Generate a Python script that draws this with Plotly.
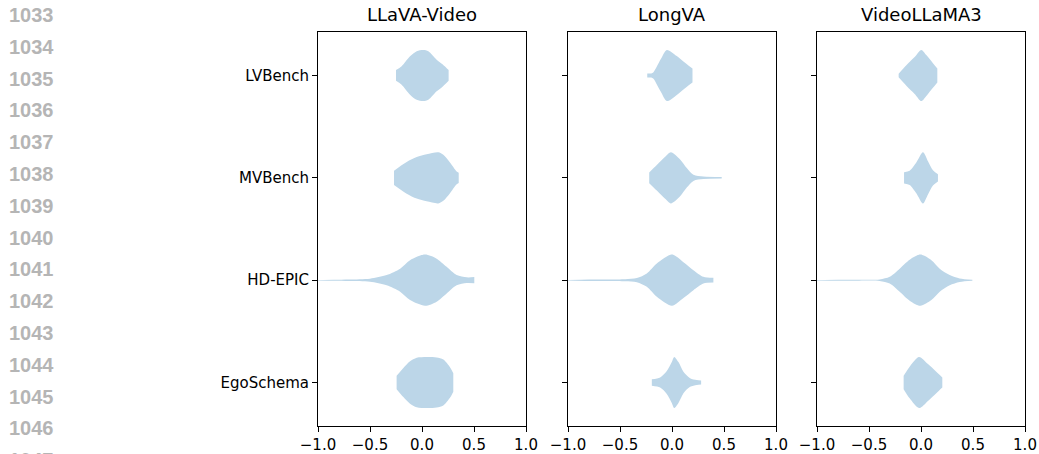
import plotly.graph_objects as go

# ---- data -------------------------------------------------------------
benchmarks = ["LVBench", "MVBench", "HD-EPIC", "EgoSchema"]
models = ["LLaVA-Video", "LongVA", "VideoLLaMA3"]
x_ticks = [-1.0, -0.5, 0.0, 0.5, 1.0]
x_tick_labels = ["\u22121.0", "\u22120.5", "0.0", "0.5", "1.0"]
line_numbers = list(range(1033, 1048))

# violin outlines: value along x and relative half-width (1 = widest)
llava_lvbench_x = [-0.25, -0.196, -0.115, -0.051, 0.013, 0.061, 0.141, 0.20, 0.256]
llava_lvbench_w = [0.21, 0.36, 0.75, 0.95, 1.0, 0.95, 0.62, 0.43, 0.21]
llava_mvbench_x = [-0.269, -0.147, -0.051, 0.045, 0.157, 0.205, 0.269, 0.333, 0.353]
llava_mvbench_w = [0.28, 0.62, 0.81, 0.92, 1.0, 0.9, 0.6, 0.25, 0.2]
llava_hdepic_x = [-1.0, -0.85, -0.7, -0.5, -0.34, -0.21, -0.115, 0.029, 0.141, 0.237, 0.333, 0.43, 0.503]
llava_hdepic_w = [0.01, 0.02, 0.03, 0.06, 0.2, 0.45, 0.78, 1.0, 0.84, 0.52, 0.2, 0.11, 0.12]
llava_ego_x = [-0.244, -0.179, -0.115, -0.051, 0.045, 0.141, 0.205, 0.269, 0.301]
llava_ego_w = [0.26, 0.57, 0.83, 0.97, 1.0, 0.98, 0.9, 0.6, 0.36]

longva_lvbench_x = [-0.238, -0.2, -0.178, -0.146, -0.106, -0.05, 0.046, 0.110, 0.174, 0.197]
longva_lvbench_w = [0.08, 0.08, 0.13, 0.35, 0.65, 1.0, 0.76, 0.55, 0.34, 0.27]
longva_mvbench_x = [-0.219, -0.146, -0.066, -0.011, 0.078, 0.142, 0.206, 0.302, 0.478]
longva_mvbench_w = [0.21, 0.5, 0.82, 1.0, 0.72, 0.38, 0.12, 0.05, 0.03]
longva_hdepic_x = [-1.0, -0.8, -0.6, -0.45, -0.338, -0.242, -0.146, 0.0, 0.11, 0.206, 0.302, 0.398]
longva_hdepic_w = [0.01, 0.03, 0.03, 0.04, 0.08, 0.26, 0.65, 1.0, 0.7, 0.39, 0.13, 0.09]
longva_ego_x = [-0.194, -0.114, -0.05, -0.002, 0.021, 0.062, 0.11, 0.174, 0.238, 0.28]
longva_ego_w = [0.13, 0.2, 0.45, 0.8, 1.0, 0.8, 0.42, 0.17, 0.1, 0.08]

vl3_lvbench_x = [-0.215, -0.141, -0.061, 0.003, 0.051, 0.115, 0.157]
vl3_lvbench_w = [0.07, 0.4, 0.72, 1.0, 0.8, 0.48, 0.27]
vl3_mvbench_x = [-0.163, -0.109, -0.045, 0.019, 0.067, 0.115, 0.163]
vl3_mvbench_w = [0.22, 0.28, 0.6, 1.0, 0.65, 0.3, 0.14]
vl3_hdepic_x = [-1.0, -0.8, -0.6, -0.397, -0.301, -0.205, -0.109, -0.006, 0.1, 0.18, 0.276, 0.372, 0.494]
vl3_hdepic_w = [0.01, 0.02, 0.02, 0.03, 0.13, 0.45, 0.8, 1.0, 0.78, 0.45, 0.2, 0.07, 0.02]
vl3_ego_x = [-0.167, -0.109, -0.019, 0.067, 0.147, 0.205]
vl3_ego_w = [0.26, 0.62, 1.0, 0.72, 0.42, 0.2]

profiles = {
    "LLaVA-Video": [(llava_lvbench_x, llava_lvbench_w), (llava_mvbench_x, llava_mvbench_w),
                    (llava_hdepic_x, llava_hdepic_w), (llava_ego_x, llava_ego_w)],
    "LongVA": [(longva_lvbench_x, longva_lvbench_w), (longva_mvbench_x, longva_mvbench_w),
               (longva_hdepic_x, longva_hdepic_w), (longva_ego_x, longva_ego_w)],
    "VideoLLaMA3": [(vl3_lvbench_x, vl3_lvbench_w), (vl3_mvbench_x, vl3_mvbench_w),
                    (vl3_hdepic_x, vl3_hdepic_w), (vl3_ego_x, vl3_ego_w)],
}

# ---- styling ----------------------------------------------------------
W, H = 1039, 454
HALF = 0.25                      # half of the violin width in y units
FILL = "rgb(188,214,232)"
FONT = "DejaVu Sans"
x_domains = [(318, 526), (568, 776), (817, 1025)]
y_top_px, y_bot_px = 32, 426
y_domain = [1 - y_bot_px / H, 1 - y_top_px / H]

fig = go.Figure()

for i, model in enumerate(models):
    xa = "x" if i == 0 else f"x{i + 1}"
    ya = "y" if i == 0 else f"y{i + 1}"
    for j, (xs, ws) in enumerate(profiles[model]):
        pos = j + 1
        upper = [pos - HALF * w for w in ws]
        lower = [pos + HALF * w for w in ws]
        edge = dict(width=0, shape="spline", smoothing=0.8, color=FILL)
        fig.add_trace(go.Scatter(x=xs, y=upper, mode="lines", line=edge,
                                 xaxis=xa, yaxis=ya, hoverinfo="skip", showlegend=False))
        fig.add_trace(go.Scatter(x=xs, y=lower, mode="lines", line=edge,
                                 fill="tonexty", fillcolor=FILL,
                                 xaxis=xa, yaxis=ya, hoverinfo="skip", showlegend=False))

    axis_common = dict(showline=True, mirror=True, linecolor="black", linewidth=1,
                       ticks="outside", ticklen=5, tickwidth=1, tickcolor="black",
                       showgrid=False, zeroline=False, automargin=False,
                       tickfont=dict(family=FONT, size=15, color="black"))
    x0, x1 = x_domains[i]
    fig.layout[f"xaxis{'' if i == 0 else i + 1}"] = dict(
        domain=[x0 / W, x1 / W], range=[-1, 1], anchor=ya,
        tickvals=x_ticks, ticktext=x_tick_labels, **axis_common)
    fig.layout[f"yaxis{'' if i == 0 else i + 1}"] = dict(
        domain=y_domain, range=[4.425, 0.575], anchor=xa,
        tickvals=[1, 2, 3, 4], ticktext=benchmarks, showticklabels=(i == 0),
        **axis_common)

    fig.add_annotation(text=model, xref="paper", yref="paper",
                       x=(x0 + x1) / 2 / W, y=1 - (y_top_px - 5) / H,
                       xanchor="center", yanchor="bottom", showarrow=False,
                       font=dict(family=FONT, size=18, color="black"))

# margin line numbers
for k, n in enumerate(line_numbers):
    fig.add_annotation(text=f"<b>{n}</b>", xref="paper", yref="paper",
                       x=7 / W, y=1 - (15 + k * 31.8) / H,
                       xanchor="left", yanchor="middle", showarrow=False,
                       font=dict(family="Liberation Sans", size=20, color="#b5b5b5"))

fig.update_layout(width=W, height=H, margin=dict(l=0, r=0, t=0, b=0),
                  plot_bgcolor="white", paper_bgcolor="white", showlegend=False)

fig.write_html("out.html")
